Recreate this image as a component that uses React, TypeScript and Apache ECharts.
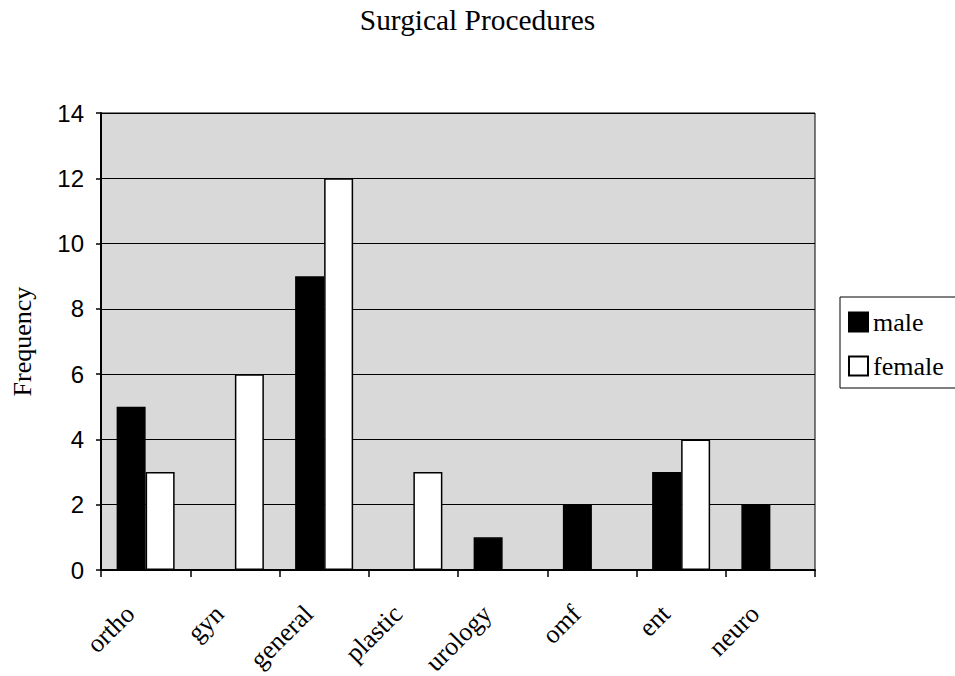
import React, { useEffect, useRef } from "react";
import * as echarts from "echarts";

const categories = ["ortho", "gyn", "general", "plastic", "urology", "omf", "ent", "neuro"];
const maleValues = [5, 0, 9, 0, 1, 2, 3, 2];
const femaleValues = [3, 6, 12, 3, 0, 0, 4, 0];
const seriesNames = ["male", "female"];
const titleText = "Surgical Procedures";
const yAxisName = "Frequency";

const SERIF = "'Liberation Serif', 'Times New Roman', serif";
const SANS = "'Liberation Sans', Arial, sans-serif";

export default function App() {
  const ref = useRef<HTMLDivElement>(null);
  useEffect(() => {
    if (!ref.current) return;
    const chart = echarts.init(ref.current, undefined, { renderer: "svg" });
    chart.setOption({
      animation: false,
      backgroundColor: "#fff",
      title: {
        text: titleText,
        left: "center",
        top: 0,
        textStyle: { fontFamily: SERIF, fontWeight: "normal", fontSize: 29.4, color: "#000" },
      },
      legend: {
        orient: "vertical",
        left: 840,
        top: 297,
        padding: [12, 40, 9, 8],
        itemGap: 18,
        itemWidth: 19,
        itemHeight: 19,
        icon: "rect",
        borderColor: "#000",
        borderWidth: 1,
        backgroundColor: "#fff",
        textStyle: { fontFamily: SERIF, fontSize: 26, color: "#000" },
        data: seriesNames,
      },
      grid: {
        left: 101,
        right: 140,
        top: 113,
        bottom: 106,
        outerBoundsMode: "none",
        containLabel: false,
        show: true,
        backgroundColor: "#d9d9d9",
        borderColor: "#000",
        borderWidth: 1,
      },
      xAxis: {
        type: "category",
        data: categories,
        axisLine: { show: true, lineStyle: { color: "#000", width: 2 } },
        axisTick: { show: true, interval: 0, length: 7, lineStyle: { color: "#000", width: 1.5 } },
        axisLabel: {
          interval: 0,
          rotate: 45,
          margin: 24,
          padding: [0, 22, 0, 0],
          fontFamily: SERIF,
          fontSize: 26,
          color: "#000",
        },
      },
      yAxis: {
        type: "value",
        min: 0,
        max: 14,
        interval: 2,
        name: yAxisName,
        nameLocation: "middle",
        nameRotate: 90,
        nameGap: 66,
        nameTextStyle: { fontFamily: SERIF, fontSize: 26, color: "#000" },
        axisLine: { show: true, lineStyle: { color: "#000", width: 2 } },
        axisTick: { show: true, length: 5, lineStyle: { color: "#000", width: 1.5 } },
        axisLabel: { fontFamily: SANS, fontSize: 24, color: "#000", margin: 17 },
        splitLine: { show: true, lineStyle: { color: "#000", width: 1.2 } },
      },
      series: [
        {
          name: seriesNames[0],
          type: "bar",
          data: maleValues,
          barWidth: 29,
          barGap: "0%",
          itemStyle: { color: "#000", borderColor: "#000", borderWidth: 1.5 },
        },
        {
          name: seriesNames[1],
          type: "bar",
          data: femaleValues,
          barWidth: 29,
          barGap: "0%",
          itemStyle: { color: "#fff", borderColor: "#000", borderWidth: 1.5 },
        },
      ],
    });
    return () => chart.dispose();
  }, []);
  return (
    <div
      ref={ref}
      style={{ position: "absolute", left: 0, top: 0, width: 955, height: 676 }}
    />
  );
}
